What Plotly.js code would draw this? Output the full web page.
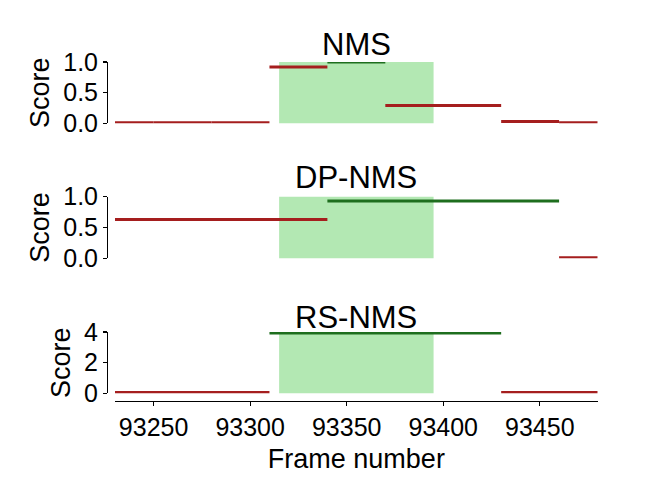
<!DOCTYPE html>
<html>
<head>
<meta charset="utf-8">
<script src="https://cdn.plot.ly/plotly-3.0.1.min.js"></script>
<style>html,body{margin:0;padding:0;background:#fff;}#chart{width:664px;height:502px;}</style>
</head>
<body>
<div id="chart"></div>
<script>
// Ground-truth interval (frames)
const gtStart = 93315;
const gtEnd = 93395;

// NMS segments
const nmsStart = [93230, 93250, 93280, 93310, 93340, 93370, 93430, 93460];
const nmsEnd   = [93250, 93280, 93310, 93340, 93370, 93430, 93460, 93480];
const nmsScore = [0.01, 0.01, 0.01, 0.92, 1.0, 0.29, 0.03, 0.01];
const nmsHit   = [false, false, false, false, true, false, false, false];

// DP-NMS segments
const dpStart = [93230, 93340, 93460];
const dpEnd   = [93340, 93460, 93480];
const dpScore = [0.63, 0.93, 0.01];
const dpHit   = [false, true, false];

// RS-NMS segments
const rsStart = [93230, 93310, 93430];
const rsEnd   = [93310, 93430, 93480];
const rsScore = [0.05, 3.93, 0.05];
const rsHit   = [false, true, false];

const panelTitles = ["NMS", "DP-NMS", "RS-NMS"];
const xTicks = [93250, 93300, 93350, 93400, 93450];

const RED = "#a51e1e";
const GREEN = "#1e6e1e";
const RECT = "#b3e8b3";
const FONT = "Liberation Sans, Arial, sans-serif";

function segTraces(starts, ends, scores, hits, yaxis) {
  const out = [];
  for (let i = 0; i < starts.length; i++) {
    out.push({
      type: "scatter", mode: "lines",
      x: [starts[i], ends[i]], y: [scores[i], scores[i]],
      xaxis: "x", yaxis: yaxis,
      line: {color: hits[i] ? GREEN : RED, width: 3},
      hoverinfo: "skip", showlegend: false
    });
  }
  return out;
}

const data = [].concat(
  segTraces(nmsStart, nmsEnd, nmsScore, nmsHit, "y"),
  segTraces(dpStart, dpEnd, dpScore, dpHit, "y2"),
  segTraces(rsStart, rsEnd, rsScore, rsHit, "y3")
);

const W = 664, H = 502;
const xDom = [115 / W, 597.7 / W];
const yPos = 107 / W;
const doms = [
  [(H - 123.3) / H, (H - 62) / H],
  [(H - 258.3) / H, (H - 196.7) / H],
  [(H - 393.3) / H, (H - 332) / H]
];

function yAxis(dom, range, dtick, fmt) {
  return {
    domain: dom, range: range, anchor: "free", position: yPos,
    showgrid: false, zeroline: false, showline: true, linecolor: "#000", linewidth: 1.3,
    ticks: "outside", ticklen: 4, tickwidth: 1.2, tickcolor: "#000",
    dtick: dtick, tick0: 0, tickformat: fmt,
    tickfont: {size: 25, color: "#000", family: FONT},
    title: {text: "Score", font: {size: 27, color: "#000", family: FONT}, standoff: 4},
    fixedrange: true
  };
}

const shapes = ["y", "y2", "y3"].map(ya => ({
  type: "rect", xref: "x", yref: ya + " domain",
  x0: gtStart, x1: gtEnd, y0: 0, y1: 1,
  fillcolor: RECT, line: {width: 0}, layer: "below"
}));

const titleY = [(H - 44) / H, (H - 177) / H, (H - 317) / H];
const annotations = panelTitles.map((t, i) => ({
  text: t, xref: "paper", yref: "paper",
  x: (xDom[0] + xDom[1]) / 2, y: titleY[i],
  xanchor: "center", yanchor: "middle", showarrow: false,
  font: {size: 31, color: "#000", family: FONT}
}));

const layout = {
  width: W, height: H,
  margin: {l: 0, r: 0, t: 0, b: 0},
  paper_bgcolor: "#fff", plot_bgcolor: "rgba(0,0,0,0)",
  font: {family: FONT, color: "#000"},
  showlegend: false,
  xaxis: {
    domain: xDom, range: [93230, 93480], anchor: "free", position: (H - 401) / H,
    showgrid: false, zeroline: false, showline: true, linecolor: "#000", linewidth: 1.3,
    ticks: "outside", ticklen: 4, tickwidth: 1.2, tickcolor: "#000",
    tickvals: xTicks, tickformat: "d",
    tickfont: {size: 25, color: "#000", family: FONT},
    title: {text: "Frame number", font: {size: 27, color: "#000", family: FONT}, standoff: 8},
    fixedrange: true
  },
  yaxis: yAxis(doms[0], [0, 1], 0.5, ".1f"),
  yaxis2: yAxis(doms[1], [0, 1], 0.5, ".1f"),
  yaxis3: yAxis(doms[2], [0, 4], 2, "d"),
  shapes: shapes,
  annotations: annotations
};

Plotly.newPlot("chart", data, layout, {staticPlot: true, displayModeBar: false});
</script>
</body>
</html>
